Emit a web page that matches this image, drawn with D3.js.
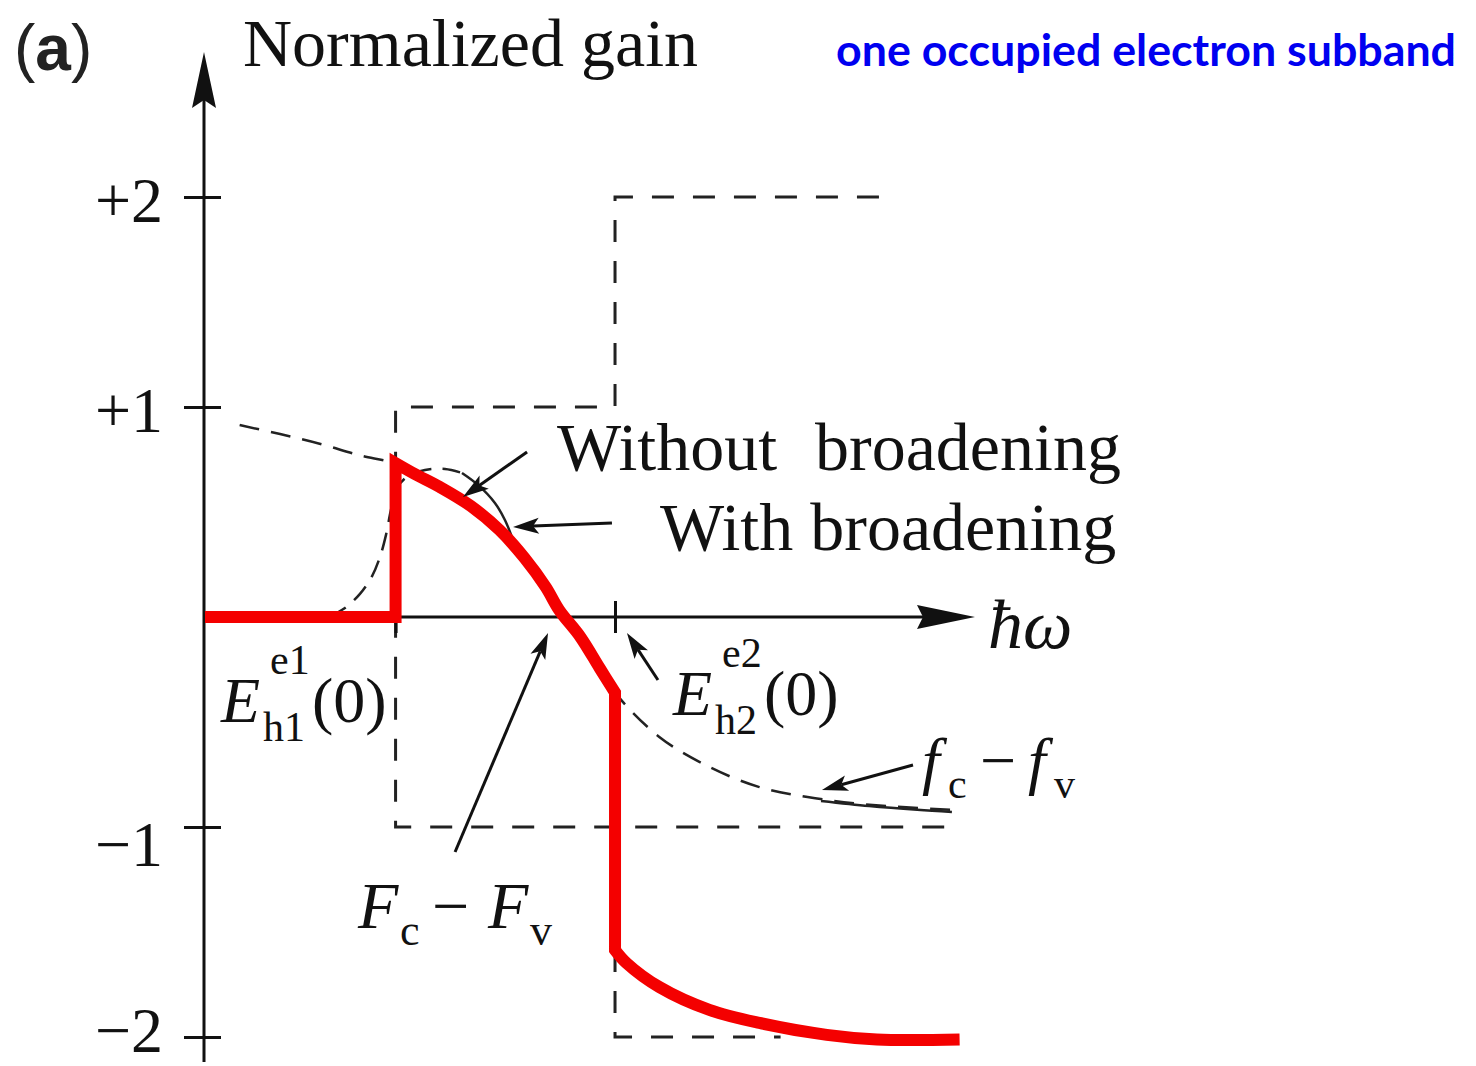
<!DOCTYPE html>
<html>
<head>
<meta charset="utf-8">
<script src="https://cdn.jsdelivr.net/npm/d3@7"></script>
<style>
  html, body { margin: 0; padding: 0; background: #fff; }
  svg { display: block; }
</style>
</head>
<body>
<svg id="chart" width="1476" height="1066"></svg>
<script>
// ---- data (photon energy in arbitrary units, gain normalised to the step density) ----
const yTickValues = [-2, -1, 1, 2];
const yTickLabels = ["\u22122", "\u22121", "+1", "+2"];
const bandEdges = [0.99, 2.13];            // E_h1^e1(0), E_h2^e2(0)

// step-like joint density of states (no broadening), upper and lower envelopes
const stepUpper = [[3.84, -1], [0.99, -1], [0.99, 1], [2.13, 1], [2.13, 2], [3.51, 2]];
const stepLower = [[2.13, -1], [2.13, -2], [2.99, -2]];

// Fermi factor f_c - f_v
const fermiFactor = [
  [0.18, 0.914], [0.39, 0.871], [0.60, 0.824], [0.80, 0.771], [0.99, 0.73],
  [1.09, 0.681], [1.22, 0.619], [1.38, 0.529], [1.53, 0.414], [1.66, 0.281],
  [1.77, 0.143], [1.84, 0.033], [1.95, -0.095], [2.05, -0.243], [2.13, -0.36],
  [2.36, -0.571], [2.62, -0.714], [2.88, -0.81], [3.13, -0.857], [3.40, -0.89], [3.90, -0.919]
];
const fermiTail = [[3.20, -0.876], [3.45, -0.900], [3.70, -0.918], [3.88, -0.928]];

// gain spectrum without broadening (thick red)
const gainBelowEdge = [[0, 0], [0.99, 0]];
const gainFirstBand = [
  [0.99, 0.733], [1.09, 0.681], [1.22, 0.619], [1.38, 0.529], [1.53, 0.414],
  [1.66, 0.281], [1.77, 0.143], [1.84, 0.033], [1.95, -0.095], [2.05, -0.243], [2.13, -0.36]
];
const gainSecondBand = [
  [2.13, -1.586], [2.19, -1.648], [2.36, -1.762], [2.62, -1.871], [2.88, -1.933],
  [3.23, -1.99], [3.49, -2.012], [3.92, -2.012]
];

// gain spectrum with broadening near the first edge
const broadenedEdge = [
  [0.649, 0.005], [0.727, 0.043], [0.805, 0.11], [0.868, 0.195], [0.909, 0.286],
  [0.94, 0.39], [0.966, 0.51], [0.997, 0.614], [1.055, 0.671], [1.143, 0.70],
  [1.247, 0.705], [1.335, 0.686]
];
const broadenedPeak = [[1.335, 0.686], [1.418, 0.629], [1.506, 0.543], [1.558, 0.462], [1.60, 0.367]];

// pointer arrows for the annotations: [from, to] in data units
const pointers = [
  [[1.673, 0.786], [1.34, 0.571]],     // Without broadening
  [[2.114, 0.448], [1.60, 0.429]],     // With broadening
  [[1.299, -1.119], [1.782, -0.076]],  // F_c - F_v
  [[2.353, -0.30], [2.192, -0.076]],   // E_h2^e2(0)
  [[3.678, -0.705], [3.205, -0.824]]   // f_c - f_v
];

// ---- drawing ----
const SERIF = "'Liberation Serif', 'Times New Roman', serif";
const svg = d3.select("#chart");
const x = d3.scaleLinear().domain([0, 4]).range([205, 975]);
const y = d3.scaleLinear().domain([-2, 2]).range([1037, 197]);

const linear = d3.line().x(d => x(d[0])).y(d => y(d[1]));
const smooth = d3.line().x(d => x(d[0])).y(d => y(d[1])).curve(d3.curveCatmullRom.alpha(0.5));
const cont = p => p.replace(/^M/, "L");

function arrowHead(g, x1, y1, x2, y2, L, W, N) {
  const a = Math.atan2(y2 - y1, x2 - x1);
  const c = Math.cos(a), s = Math.sin(a);
  const pt = (u, v) => [x2 + u * c - v * s, y2 + u * s + v * c];
  g.append("polygon")
    .attr("points", [pt(0, 0), pt(-L, -W), pt(-L + N, 0), pt(-L, W)].map(p => p.join(",")).join(" "))
    .attr("fill", "#111");
  return pt(-L + N, 0);
}

// step envelopes (dashed)
svg.append("path").attr("d", linear(stepUpper))
  .attr("fill", "none").attr("stroke", "#222").attr("stroke-width", 3)
  .attr("stroke-dasharray", "22,19");
svg.append("path").attr("d", linear(stepLower))
  .attr("fill", "none").attr("stroke", "#222").attr("stroke-width", 3)
  .attr("stroke-dasharray", "22,19");

// axes
const yAxisG = svg.append("g").attr("transform", `translate(${x(0) - 1},0)`)
  .call(d3.axisLeft(y).tickValues(yTickValues).tickFormat((d, i) => yTickLabels[i]));
yAxisG.select(".domain").remove();
yAxisG.selectAll(".tick line").attr("x1", -20).attr("x2", 17)
  .attr("stroke", "#111").attr("stroke-width", 3);
yAxisG.selectAll(".tick text")
  .attr("x", -41).attr("dy", null).attr("y", d => d === -1 ? 38 : (d === -2 ? 14 : 24))
  .attr("font-family", SERIF).attr("font-size", 64).attr("fill", "#111");

const xAxisG = svg.append("g").attr("transform", `translate(0,${y(0)})`)
  .call(d3.axisBottom(x).tickValues(bandEdges).tickFormat(""));
xAxisG.select(".domain").remove();
xAxisG.selectAll(".tick line").attr("y1", -16).attr("y2", 16)
  .attr("stroke", "#111").attr("stroke-width", 3);

// axis lines with arrow heads
const axes = svg.append("g");
const yTip = [x(0) - 1, 52];
const yEnd = arrowHead(axes, yTip[0], 1062, yTip[0], yTip[1], 56, 12, 8);
axes.append("line").attr("x1", yTip[0]).attr("x2", yTip[0]).attr("y1", 1062).attr("y2", yEnd[1])
  .attr("stroke", "#111").attr("stroke-width", 3);
const xTip = [975, y(0)];
const xEnd = arrowHead(axes, x(0), xTip[1], xTip[0], xTip[1], 58, 12, 6);
axes.append("line").attr("x1", x(0)).attr("x2", xEnd[0]).attr("y1", y(0)).attr("y2", y(0))
  .attr("stroke", "#111").attr("stroke-width", 3);

// Fermi factor and broadened curves
svg.append("path").attr("d", smooth(fermiFactor))
  .attr("fill", "none").attr("stroke", "#222").attr("stroke-width", 2.5)
  .attr("stroke-dasharray", "20,12");
svg.append("path").attr("d", smooth(fermiTail))
  .attr("fill", "none").attr("stroke", "#222").attr("stroke-width", 2.5);
svg.append("path").attr("d", smooth(broadenedEdge))
  .attr("fill", "none").attr("stroke", "#222").attr("stroke-width", 2.5)
  .attr("stroke-dasharray", "18,11");
svg.append("path").attr("d", smooth(broadenedPeak))
  .attr("fill", "none").attr("stroke", "#222").attr("stroke-width", 2.5);

// gain spectrum (thick red)
const gainPath = linear(gainBelowEdge) + cont(smooth(gainFirstBand)) + cont(smooth(gainSecondBand));
svg.append("path").attr("d", gainPath)
  .attr("fill", "none").attr("stroke", "#f40000").attr("stroke-width", 12)
  .attr("stroke-linejoin", "miter").attr("stroke-miterlimit", 6);

// pointer arrows
const ptrG = svg.append("g");
pointers.forEach(([from, to]) => {
  const x1 = x(from[0]), y1 = y(from[1]), x2 = x(to[0]), y2 = y(to[1]);
  const end = arrowHead(ptrG, x1, y1, x2, y2, 26, 8, 6);
  ptrG.append("line").attr("x1", x1).attr("y1", y1).attr("x2", end[0]).attr("y2", end[1])
    .attr("stroke", "#111").attr("stroke-width", 3);
});

// ---- text ----
const T = svg.append("g").attr("fill", "#111").attr("font-family", SERIF);

const tA = svg.append("text").attr("x", 14).attr("y", 70)
  .attr("font-family", "'Liberation Sans', Arial, sans-serif").attr("font-size", 64).attr("fill", "#222");
tA.append("tspan").text("(");
tA.append("tspan").attr("font-weight", "bold").text("a");
tA.append("tspan").text(")");

T.append("text").attr("x", 243).attr("y", 66).attr("font-size", 68).text("Normalized gain");

svg.append("text").attr("x", 836).attr("y", 66)
  .attr("font-family", "Lato, 'Open Sans', sans-serif").attr("font-weight", "bold")
  .attr("font-size", 44).attr("fill", "#0000f0")
  .attr("textLength", 620).attr("lengthAdjust", "spacingAndGlyphs")
  .text("one occupied electron subband");

T.append("text").attr("x", 557).attr("y", 470).attr("font-size", 68).text("Without");
T.append("text").attr("x", 815).attr("y", 470).attr("font-size", 68).text("broadening");
T.append("text").attr("x", 660).attr("y", 550).attr("font-size", 68).text("With broadening");

T.append("text").attr("x", 988).attr("y", 648).attr("font-size", 70).attr("font-style", "italic").text("\u0127\u03c9");

function bandLabel(ex, base, sup, sub) {
  const t = T.append("text").attr("font-size", 64);
  t.append("tspan").attr("x", ex).attr("y", base).attr("font-style", "italic").text("E");
  t.append("tspan").attr("x", ex + 49).attr("y", base - 48).attr("font-size", 42).text(sup);
  t.append("tspan").attr("x", ex + 42).attr("y", base + 19).attr("font-size", 42).text(sub);
  t.append("tspan").attr("x", ex + 91).attr("y", base).text("(0)");
}
bandLabel(221, 722, "e1", "h1");
bandLabel(673, 715, "e2", "h2");

const fLab = T.append("text").attr("font-size", 64);
fLab.append("tspan").attr("x", 922).attr("y", 782).attr("font-style", "italic").text("f");
fLab.append("tspan").attr("x", 948).attr("y", 798).attr("font-size", 42).text("c");
fLab.append("tspan").attr("x", 980).attr("y", 782).text("\u2212");
fLab.append("tspan").attr("x", 1028).attr("y", 782).attr("font-style", "italic").text("f");
fLab.append("tspan").attr("x", 1054).attr("y", 798).attr("font-size", 42).text("v");

const FLab = T.append("text").attr("font-size", 66);
FLab.append("tspan").attr("x", 358).attr("y", 928).attr("font-style", "italic").text("F");
FLab.append("tspan").attr("x", 400).attr("y", 945).attr("font-size", 44).text("c");
FLab.append("tspan").attr("x", 432).attr("y", 928).text("\u2212");
FLab.append("tspan").attr("x", 488).attr("y", 928).attr("font-style", "italic").text("F");
FLab.append("tspan").attr("x", 530).attr("y", 945).attr("font-size", 44).text("v");
</script>
</body>
</html>
